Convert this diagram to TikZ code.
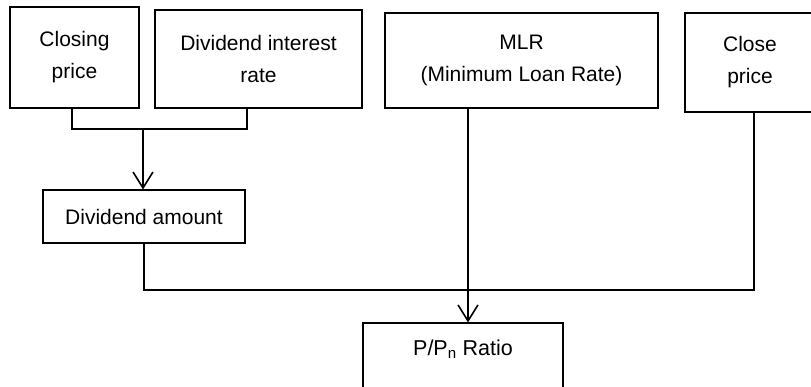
\documentclass[tikz,border=0pt]{standalone}
\usepackage{fontspec}
\setmainfont{Liberation Sans}
\usetikzlibrary{arrows.meta}
\begin{document}
\begin{tikzpicture}[x=1pt,y=-1pt,
  box/.style={draw, line width=1.1pt, inner sep=0pt, align=center,
    font=\fontsize{21}{32}\selectfont},
  conn/.style={line width=1.6pt},
  arr/.style={conn, -{Straight Barb[length=16pt,width=20pt]}}]
\useasboundingbox (0,0) rectangle (811,386);
\clip (0,0) rectangle (811,386);
\fill[white] (0,0) rectangle (811,386);
% boxes
\node[box, minimum width=129, minimum height=101] (cp) at (74.5,57.5) {Closing\\price};
\node[box, minimum width=207, minimum height=98] (dir) at (258.5,59) {Dividend interest\\rate};
\node[box, minimum width=273, minimum height=95] (mlr) at (521.5,60.5) {MLR\\(Minimum Loan Rate)};
\node[box, minimum width=130, minimum height=99] (close) at (750,62.5) {Close\\price};
\node[box, minimum width=202, minimum height=53] (da) at (144,216.5) {Dividend amount};
\node[box, minimum width=200, text height=32pt, text depth=35pt,
  font=\fontsize{21.5}{32}\selectfont] (pp) at (463,356.5) {P/P\textsubscript{n} Ratio};
% junction points
\coordinate (j1) at (143,129);
\coordinate (j2) at (467,290);
\coordinate (cpb) at ([xshift=-2.5pt]cp.south);
\coordinate (dirb) at ([xshift=-11.5pt]dir.south);
\coordinate (clb) at ([xshift=4pt]close.south);
\coordinate (mlrb) at ([xshift=-53.5pt]mlr.south);
% connectors
\draw[conn] (cpb) |- (j1) -| (dirb);
\draw[arr] (j1) -- (j1 |- da.north);
\draw[conn] (da.south) |- (clb |- j2) -- (clb);
\draw[arr] (mlrb) -- (mlrb |- pp.north);
\end{tikzpicture}
\end{document}
